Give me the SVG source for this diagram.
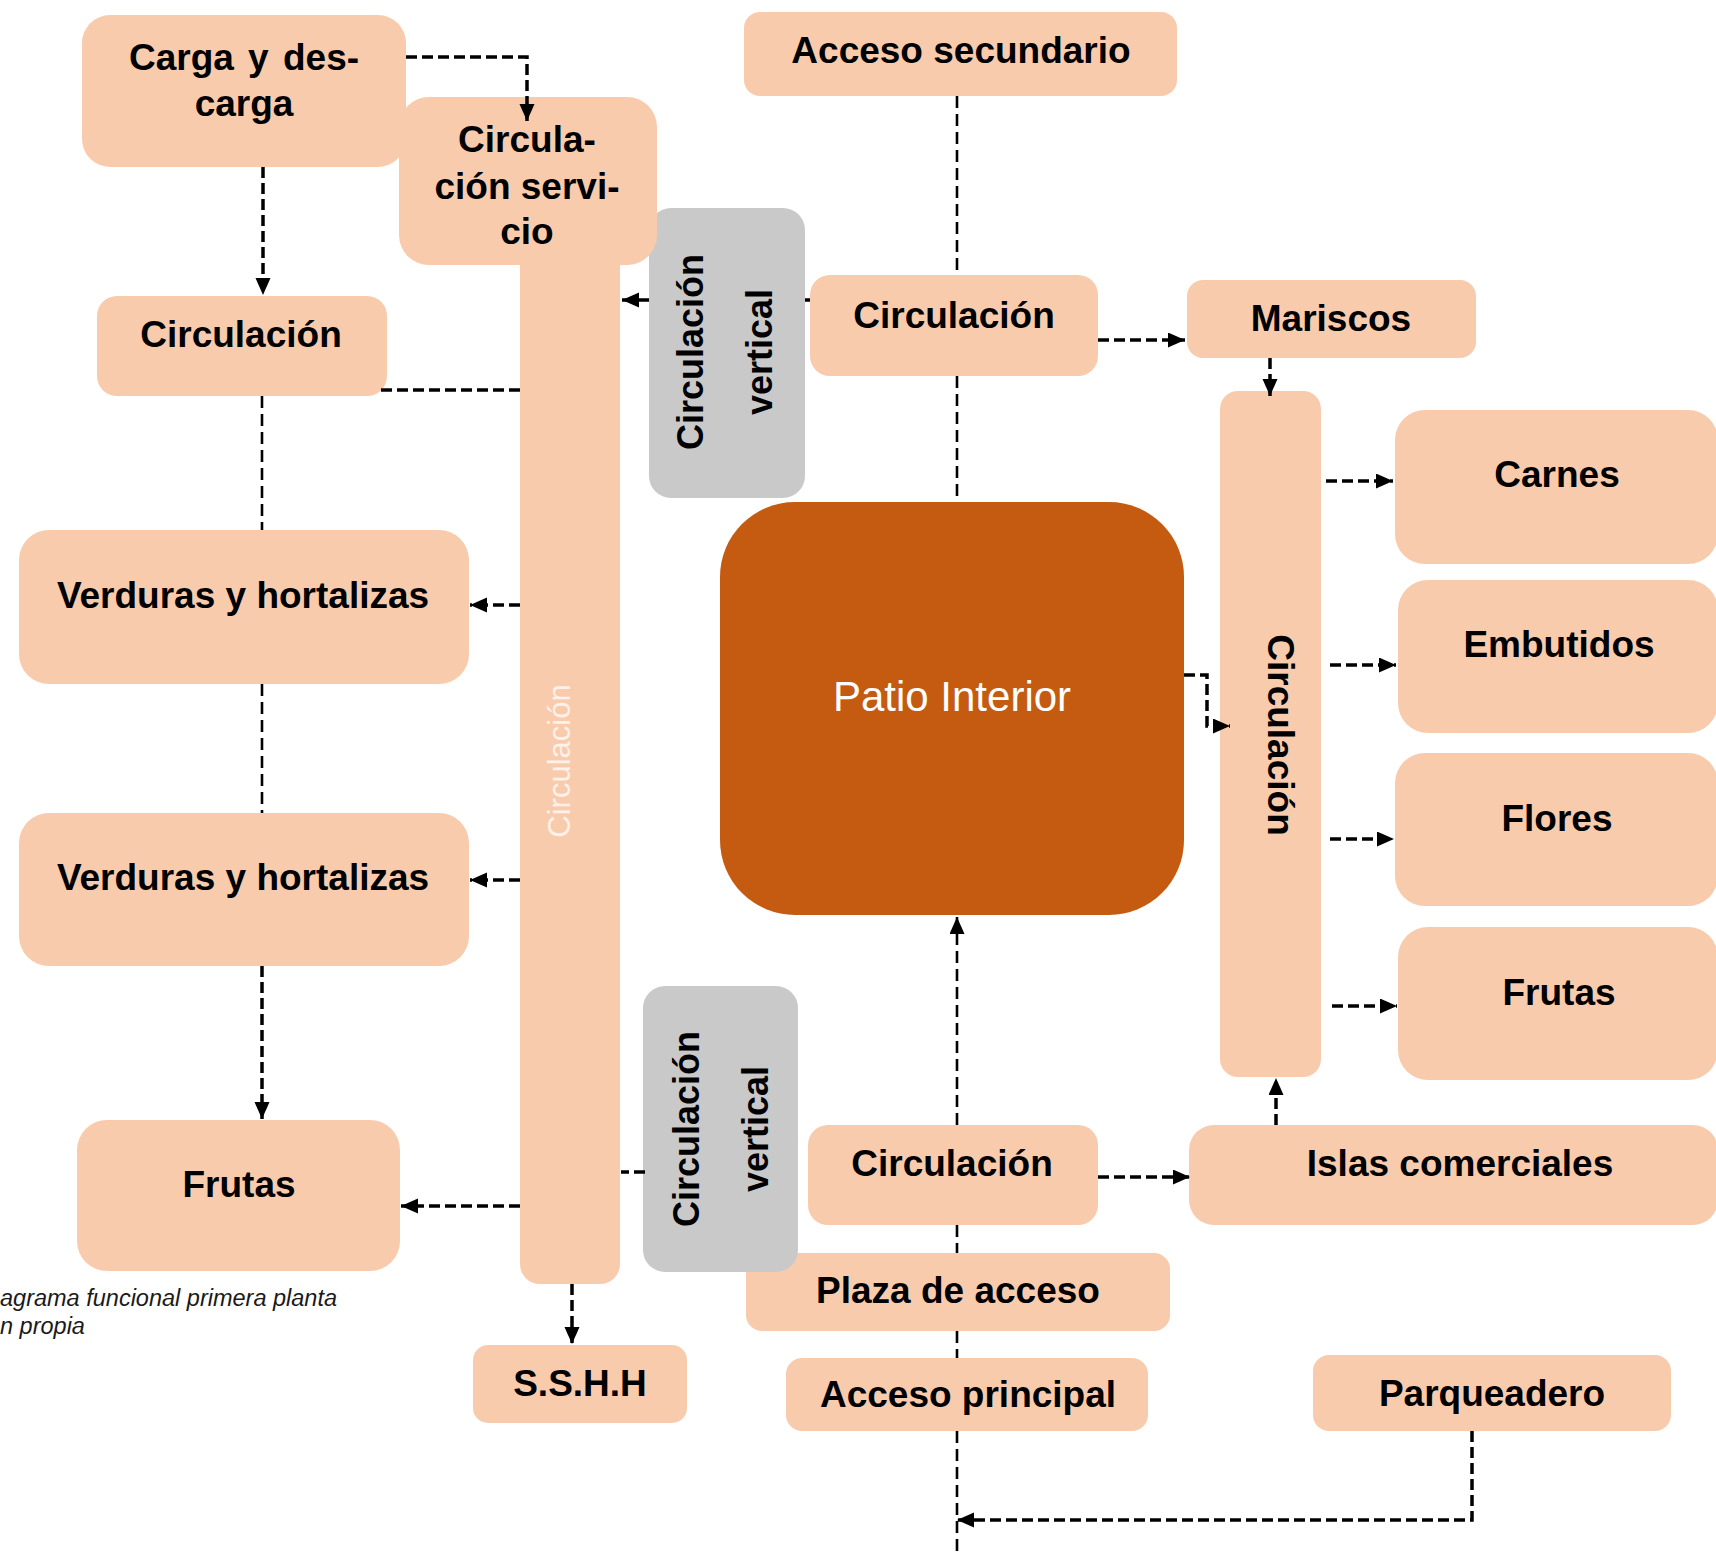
<svg xmlns="http://www.w3.org/2000/svg" width="1716" height="1555" viewBox="0 0 1716 1555">
<style>
.n{fill:#F8CBAD}
.g{fill:#C9C9C9}
.p{fill:#C55A11}
.t{font-family:"Liberation Sans",Arial,sans-serif;font-weight:bold;font-size:37px;fill:#000;text-anchor:middle}
.tv{font-family:"Liberation Sans",Arial,sans-serif;font-weight:bold;font-size:36px;fill:#000;text-anchor:middle}
.tw{font-family:"Liberation Sans",Arial,sans-serif;font-size:42px;fill:#fff;text-anchor:middle}
.tb{font-family:"Liberation Sans",Arial,sans-serif;font-size:31px;fill:#FDF1E8;text-anchor:middle}
.cap{font-family:"Liberation Sans",Arial,sans-serif;font-style:italic;font-size:23.5px;fill:#1a1a1a}
.c{fill:none;stroke:#000;stroke-width:3.5;stroke-dasharray:11 5}
.ax{fill:none;stroke:#000;stroke-width:2.6;stroke-dasharray:12 6}
</style>
<defs>
<marker id="ah" markerUnits="userSpaceOnUse" markerWidth="18" markerHeight="16" refX="17" refY="7.5" orient="auto">
<path d="M0,0 L17,7.5 L0,15 z" fill="#000"/>
</marker>
</defs>
<rect width="1716" height="1555" fill="#fff"/>

<g id="bar-left"><rect class="n" x="520" y="200" width="100" height="1084" rx="20"/>
<text class="tb" transform="translate(570,761) rotate(-90)">Circulación</text></g>
<g id="circ-vertical-1"><rect class="g" x="649" y="208" width="156" height="290" rx="22"/>
<text class="tv" transform="translate(703,352) rotate(-90)">Circulación</text>
<text class="tv" transform="translate(772,352) rotate(-90)">vertical</text></g>
<g id="carga"><rect class="n" x="82" y="15" width="324" height="152" rx="28"/>
<text class="t" x="244" y="70" word-spacing="4">Carga y des-</text>
<text class="t" x="244" y="116">carga</text></g>
<g id="circ-servicio"><rect class="n" x="399" y="97" width="258" height="168" rx="30"/>
<text class="t" x="527" y="152">Circula-</text>
<text class="t" x="527" y="199">ción servi-</text>
<text class="t" x="527" y="244">cio</text></g>
<g id="circ-left"><rect class="n" x="97" y="296" width="290" height="100" rx="20"/>
<text class="t" x="241" y="347">Circulación</text></g>
<g id="verduras-1"><rect class="n" x="19" y="530" width="450" height="154" rx="30"/>
<text class="t" x="243" y="608">Verduras y hortalizas</text></g>
<g id="verduras-2"><rect class="n" x="19" y="813" width="450" height="153" rx="30"/>
<text class="t" x="243" y="890">Verduras y hortalizas</text></g>
<g id="frutas-left"><rect class="n" x="77" y="1120" width="323" height="151" rx="30"/>
<text class="t" x="239" y="1197">Frutas</text></g>
<g id="sshh"><rect class="n" x="473" y="1345" width="214" height="78" rx="15"/>
<text class="t" x="580" y="1396">S.S.H.H</text></g>
<g id="acceso-secundario"><rect class="n" x="744" y="12" width="433" height="84" rx="16"/>
<text class="t" x="961" y="63">Acceso secundario</text></g>
<g id="circ-top"><rect class="n" x="810" y="275" width="288" height="101" rx="20"/>
<text class="t" x="954" y="328">Circulación</text></g>
<g id="mariscos"><rect class="n" x="1187" y="280" width="289" height="78" rx="16"/>
<text class="t" x="1331" y="331">Mariscos</text></g>
<g id="bar-right"><rect class="n" x="1220" y="391" width="101" height="686" rx="18"/>
<text class="t" transform="translate(1268,735) rotate(90)">Circulación</text></g>
<g id="carnes"><rect class="n" x="1395" y="410" width="323" height="154" rx="30"/>
<text class="t" x="1557" y="487">Carnes</text></g>
<g id="embutidos"><rect class="n" x="1398" y="580" width="320" height="153" rx="30"/>
<text class="t" x="1559" y="657">Embutidos</text></g>
<g id="flores"><rect class="n" x="1395" y="753" width="323" height="153" rx="30"/>
<text class="t" x="1557" y="831">Flores</text></g>
<g id="frutas-right"><rect class="n" x="1398" y="927" width="320" height="153" rx="30"/>
<text class="t" x="1559" y="1005">Frutas</text></g>
<g id="patio"><rect class="p" x="720" y="502" width="464" height="413" rx="75"/>
<text class="tw" x="952" y="711">Patio Interior</text></g>
<g id="circ-bottom"><rect class="n" x="808" y="1125" width="290" height="100" rx="20"/>
<text class="t" x="952" y="1176">Circulación</text></g>
<g id="islas"><rect class="n" x="1189" y="1125" width="529" height="100" rx="25"/>
<text class="t" x="1460" y="1176">Islas comerciales</text></g>
<g id="plaza"><rect class="n" x="746" y="1253" width="424" height="78" rx="16"/>
<text class="t" x="958" y="1303">Plaza de acceso</text></g>
<g id="circ-vertical-2"><rect class="g" x="643" y="986" width="155" height="286" rx="22"/>
<text class="tv" transform="translate(699,1129) rotate(-90)">Circulación</text>
<text class="tv" transform="translate(768,1129) rotate(-90)">vertical</text></g>
<g id="acceso-principal"><rect class="n" x="786" y="1358" width="362" height="73" rx="16"/>
<text class="t" x="968" y="1407">Acceso principal</text></g>
<g id="parqueadero"><rect class="n" x="1313" y="1355" width="358" height="76" rx="16"/>
<text class="t" x="1492" y="1406">Parqueadero</text></g>

<g id="caption">
<text class="cap" x="0" y="1306">agrama funcional primera planta</text>
<text class="cap" x="0" y="1334">n propia</text>
</g>

<g id="connectors">
<path class="c" d="M406,57 H527 V121" marker-end="url(#ah)"/>
<path class="c" d="M263,167 V295" marker-end="url(#ah)"/>
<path class="c" d="M381,390 H520"/>
<path class="ax" d="M262,396 V530"/>
<path class="ax" d="M262,684 V813"/>
<path class="c" d="M262,966 V1119" marker-end="url(#ah)"/>
<path class="c" d="M520,605 H470" marker-end="url(#ah)"/>
<path class="c" d="M520,880 H470" marker-end="url(#ah)"/>
<path class="c" d="M520,1206 H401" marker-end="url(#ah)"/>
<path class="c" d="M572,1284 V1344" marker-end="url(#ah)"/>
<path class="c" d="M645,1172 H621"/>
<path class="c" d="M810,300 H805"/>
<path class="c" d="M649,300 H622" marker-end="url(#ah)"/>
<path class="c" d="M1098,340 H1185" marker-end="url(#ah)"/>
<path class="c" d="M1270,358 V396" marker-end="url(#ah)"/>
<path class="c" d="M1326,481 H1393" marker-end="url(#ah)"/>
<path class="c" d="M1330,665 H1396" marker-end="url(#ah)"/>
<path class="c" d="M1330,839 H1394" marker-end="url(#ah)"/>
<path class="c" d="M1332,1006 H1397" marker-end="url(#ah)"/>
<path class="c" d="M1184,675 H1207 V726 H1230" marker-end="url(#ah)"/>
<path class="c" d="M1098,1177 H1190" marker-end="url(#ah)"/>
<path class="c" d="M1276,1125 V1078" marker-end="url(#ah)"/>
<path class="ax" d="M957,96 V275"/>
<path class="ax" d="M957,376 V502"/>
<path class="ax" d="M957,1125 V917" marker-end="url(#ah)"/>
<path class="ax" d="M957,1225 V1253"/>
<path class="ax" d="M957,1331 V1358"/>
<path class="ax" d="M957,1431 V1555"/>
<path class="c" d="M1472,1431 V1520 H957" marker-end="url(#ah)"/>
</g>
</svg>
